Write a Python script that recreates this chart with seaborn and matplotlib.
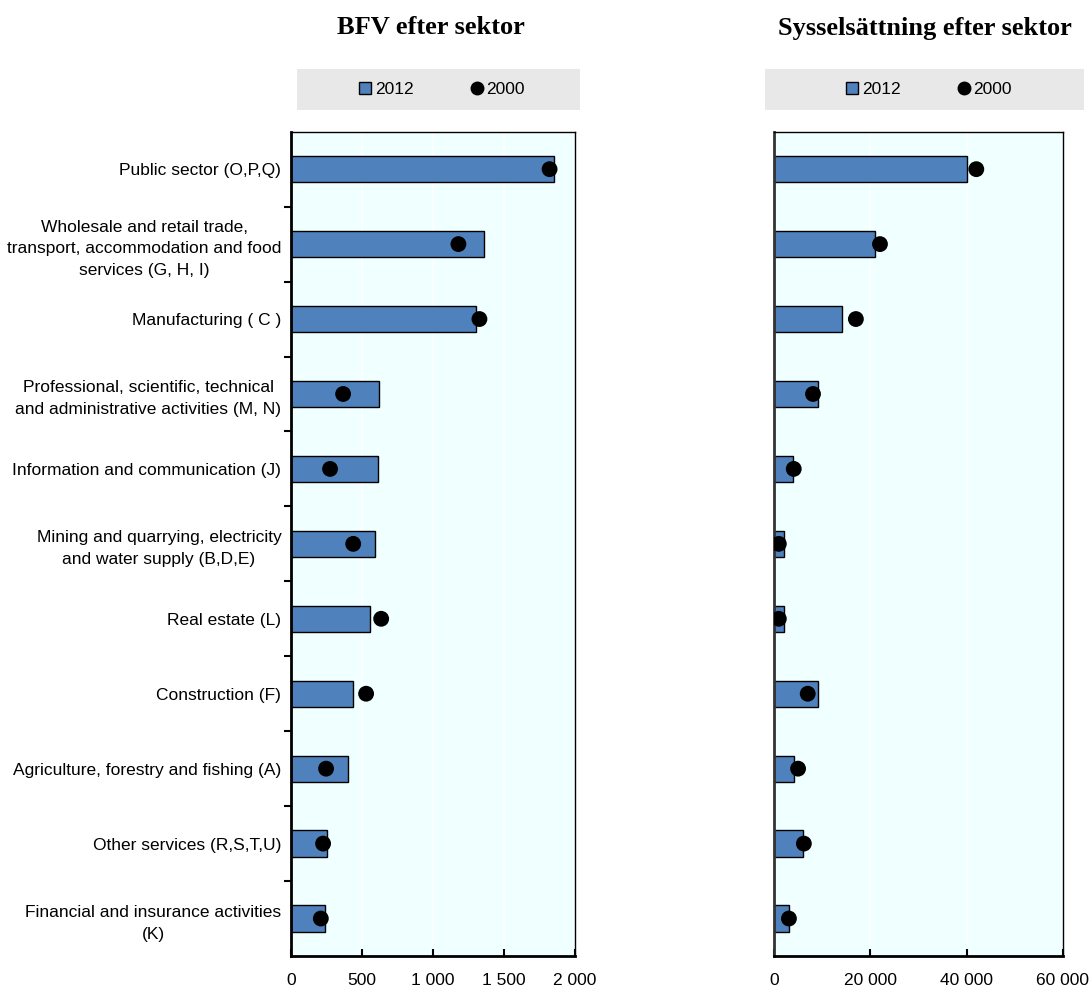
import matplotlib
matplotlib.use("Agg")
import matplotlib.pyplot as plt
import seaborn as sns
import numpy as np
import pandas as pd
from matplotlib.patches import Rectangle
from matplotlib.lines import Line2D
from matplotlib.ticker import FuncFormatter, MultipleLocator

categories = [
    "Public sector (O,P,Q)",
    "Wholesale and retail trade,\ntransport, accommodation and food\nservices (G, H, I)",
    "Manufacturing ( C )",
    "Professional, scientific, technical\nand administrative activities (M, N)",
    "Information and communication (J)",
    "Mining and quarrying, electricity\nand water supply (B,D,E)",
    "Real estate (L)",
    "Construction (F)",
    "Agriculture, forestry and fishing (A)",
    "Other services (R,S,T,U)",
    "Financial and insurance activities\n(K)",
]
bfv_2012 = [1850, 1362, 1306, 621, 614, 593, 558, 438, 402, 254, 238]
bfv_2000 = [1821, 1179, 1327, 367, 275, 438, 635, 529, 247, 226, 210]
emp_2012 = [40000, 21000, 14100, 9100, 4000, 2100, 2100, 9100, 4100, 6000, 3200]
emp_2000 = [42000, 22000, 17000, 8100, 4100, 1000, 1000, 7000, 5000, 6200, 3100]

titles = ["BFV efter sektor", "Sysselsättning efter sektor"]
series_labels = ["2012", "2000"]

sns.set_theme(style="white")
plt.rcParams["font.family"] = ["Liberation Sans", "DejaVu Sans"]
plt.rcParams["text.color"] = "black"
plt.rcParams["xtick.color"] = "black"
plt.rcParams["ytick.color"] = "black"

BAR = "#4F81BD"
BG = "#F0FFFF"

fig = plt.figure(figsize=(10.91, 9.90), dpi=100)
ax1 = fig.add_axes([291/1091, 1-956/990, 284/1091, (956-131.7)/990])
ax2 = fig.add_axes([774/1091, 1-956/990, 289/1091, (956-131.7)/990])

def fmt(v, pos):
    return f"{int(round(v)):,}".replace(",", "\u00a0")

panels = [(ax1, bfv_2012, bfv_2000, 2000, 500),
          (ax2, emp_2012, emp_2000, 60000, 20000)]

for ax, v12, v00, xmax, step in panels:
    df = pd.DataFrame({"cat": categories, "v12": v12, "v00": v00})
    ax.set_facecolor(BG)
    sns.barplot(data=df, x="v12", y="cat", ax=ax, color=BAR, width=0.35,
                edgecolor="black", linewidth=1.0, saturation=1)
    sns.scatterplot(data=df, x="v00", y="cat", ax=ax, color="black", s=130,
                    edgecolor="none", zorder=5)
    ax.set_xlim(0, xmax)
    ax.set_ylim(len(categories) - 0.5, -0.5)
    ax.xaxis.set_major_locator(MultipleLocator(step))
    ax.xaxis.set_major_formatter(FuncFormatter(fmt))
    ax.grid(axis="x", color="white", linewidth=1.2)
    ax.set_axisbelow(True)
    ax.set_xlabel("")
    ax.set_ylabel("")
    for s in ax.spines.values():
        s.set_visible(True)
        s.set_color("black")
        s.set_linewidth(1.0)
    ax.spines["left"].set_linewidth(2.0)
    ax.spines["bottom"].set_linewidth(2.0)
    ax.tick_params(axis="x", direction="in", length=5, width=1.5, labelsize=12.5,
                   pad=12, colors="black", bottom=True)
    ax.tick_params(axis="y", which="major", length=0, pad=7, labelsize=12.5)

ax1.set_yticks(np.arange(0.5, len(categories) - 1, 1), minor=True)
ax1.tick_params(axis="y", which="minor", direction="out", length=5, width=1.5, left=True)
ax1.set_yticklabels(categories, linespacing=1.55, ha="right", multialignment="center")
ax2.spines["left"].set_color("#333333")
ax2.set_yticklabels([])

# titles
for xc, t in [(431, titles[0]), (925, titles[1])]:
    fig.text(xc/1091, 1-28/990, t, ha="center", va="center",
             fontfamily="Liberation Serif", fontweight="bold", fontsize=19,
             color="black")

# legend boxes
for (x0, x1, xc) in [(297, 580, 442), (765, 1084, 929)]:
    fig.patches.append(Rectangle((x0/1091, 1-110/990), (x1-x0)/1091, 41/990,
                                 transform=fig.transFigure, facecolor="#E8E8E8",
                                 edgecolor="none", zorder=0))
    handles = [Rectangle((0, 0), 1, 1, facecolor=BAR, edgecolor="black", linewidth=1),
               Line2D([], [], marker="o", color="black", linestyle="none", markersize=9)]
    fig.legend(handles, series_labels, loc="center",
               bbox_to_anchor=(xc/1091, 1-89.5/990), ncol=2, frameon=False,
               fontsize=12.5, handlelength=0.7, handleheight=0.7, handletextpad=0.2,
               columnspacing=3.3, borderpad=0)

fig.savefig("out.png", dpi=100)
